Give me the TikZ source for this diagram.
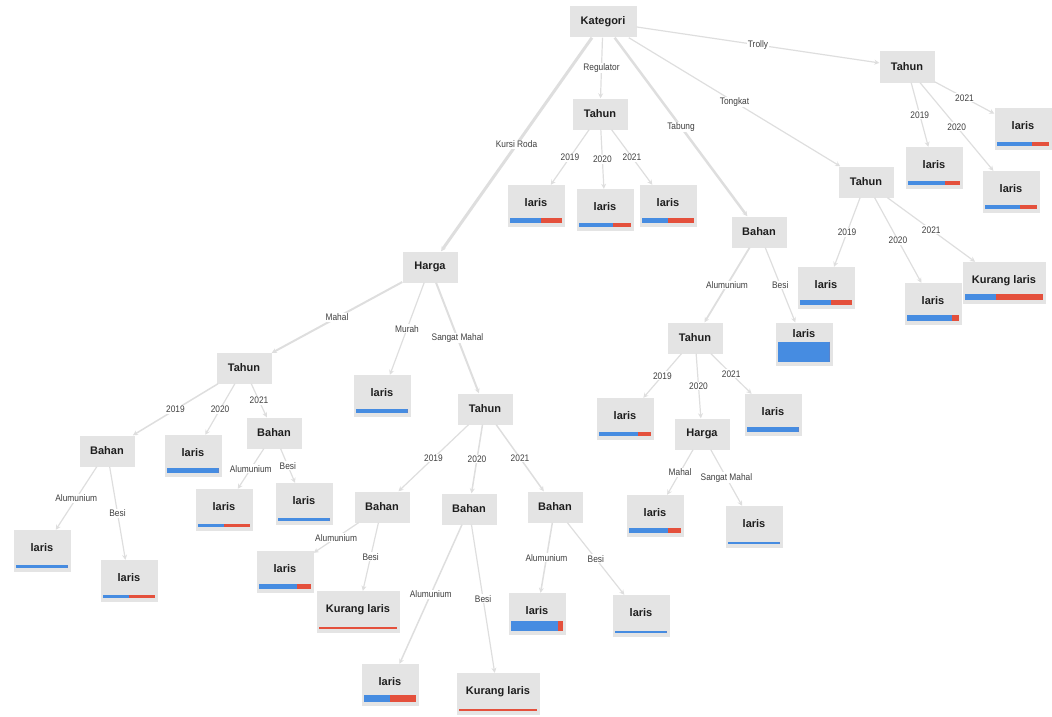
\documentclass[tikz,border=0pt]{standalone}
\usepackage{fontspec}
\setmainfont{Liberation Sans}
\newfontfamily\edgefont[FakeStretch=0.88]{Liberation Sans}
\usepackage{xcolor}
\usetikzlibrary{arrows.meta, calc}

\definecolor{nodegray}{RGB}{228,228,228}
\definecolor{edgegray}{RGB}{222,222,222}
\definecolor{barblue}{RGB}{70,140,225}
\definecolor{barred}{RGB}{228,80,60}
\definecolor{textdark}{RGB}{30,30,30}

% bar under a leaf: node, blue share, thickness
\newcommand{\leafbar}[3]{%
	\path (#1.south west) ++(3,-4) coordinate (#1-b1);
	\path (#1.south east) ++(-3,-4) coordinate (#1-b2);
	\fill[barblue] (#1-b1) rectangle ($(#1-b1)!#2!(#1-b2)+(0,-#3)$);
	\fill[barred] ($(#1-b1)!#2!(#1-b2)$) rectangle ($(#1-b2)+(0,-#3)$);
}

\begin{document}
\begin{tikzpicture}[
					x=1pt, y=-1pt,
					% --- Styles ---
					split/.style={
						rectangle, fill=nodegray, minimum width=55, minimum height=31,
						text=textdark, font=\bfseries\fontsize{11}{13}\selectfont
					},
					leaf/.style={
						rectangle, fill=nodegray, minimum width=57, inner ysep=0pt,
						text height=21, text depth=21,
						text=textdark, font=\bfseries\fontsize{11}{13}\selectfont
					},
					link/.style={
						draw=edgegray, line width=1.2, -{Stealth[length=5pt, width=5pt]}
					},
					elabel/.style={
						fill=white, inner sep=1pt, text=textdark!85,
						font=\edgefont\fontsize{9.5}{11}\selectfont
					}
					]
					\useasboundingbox (0,0) rectangle (1052,717);
					
					% --- 1. Root and first split ---
					\node [split, minimum width=67] (kat) at (603,22) {Kategori};
					\node [split] (harga) at (430,267) {Harga};
					\node [split] (tRegul) at (600,114) {Tahun};
					\node [split] (bTabung) at (759,232) {Bahan};
					\node [split] (tTongkat) at (866,182) {Tahun};
					\node [split] (tTrolly) at (907,67) {Tahun};
					
					% --- 2. Regulator, Trolly, Tongkat ---
					\node [leaf] (reg19) at (536,206) {laris};
					\node [leaf] (reg20) at (605,210) {laris};
					\node [leaf] (reg21) at (668,206) {laris};
					
					\node [leaf] (tro19) at (934,168) {laris};
					\node [leaf] (tro20) at (1011,192) {laris};
					\node [leaf] (tro21) at (1023,129) {laris};
					
					\node [leaf] (ton19) at (826,288) {laris};
					\node [leaf] (ton20) at (933,304) {laris};
					\node [leaf, minimum width=83] (ton21) at (1004,283) {Kurang laris};
					
					% --- 3. Tabung ---
					\node [split] (tTabung) at (695,338) {Tahun};
					\node [leaf, text height=15, text depth=28] (tabBesi) at (804,344) {laris};
					\node [leaf] (tab19) at (625,419) {laris};
					\node [split] (hTabung) at (702,434) {Harga};
					\node [leaf] (tab21) at (773,415) {laris};
					\node [leaf] (tabMahal) at (655,516) {laris};
					\node [leaf] (tabSM) at (754,527) {laris};
					
					% --- 4. Kursi Roda ---
					\node [split] (tMahal) at (244,368) {Tahun};
					\node [leaf] (murah) at (382,396) {laris};
					\node [split] (tSM) at (485,409) {Tahun};
					
					\node [split] (b19) at (107,451) {Bahan};
					\node [leaf] (m20) at (193,456) {laris};
					\node [split] (b21) at (274,433) {Bahan};
					\node [leaf] (b19Alu) at (42,551) {laris};
					\node [leaf] (b19Besi) at (129,581) {laris};
					\node [leaf] (b21Alu) at (224,510) {laris};
					\node [leaf] (b21Besi) at (304,504) {laris};
					
					\node [split] (s19) at (382,507) {Bahan};
					\node [split] (s20) at (469,509) {Bahan};
					\node [split] (s21) at (555,507) {Bahan};
					\node [leaf] (s19Alu) at (285,572) {laris};
					\node [leaf, minimum width=83] (s19Besi) at (358,612) {Kurang laris};
					\node [leaf] (s20Alu) at (390,685) {laris};
					\node [leaf, minimum width=83] (s20Besi) at (498,694) {Kurang laris};
					\node [leaf] (s21Alu) at (537,614) {laris};
					\node [leaf] (s21Besi) at (641,616) {laris};
					
					% --- Connections ---
					\draw [link, line width=3] (kat) -- node[elabel] {Kursi Roda} (harga);
					\draw [link] (kat) -- node[elabel] {Regulator} (tRegul);
					\draw [link, line width=2.5] (kat) -- node[elabel] {Tabung} (bTabung);
					\draw [link] (kat) -- node[elabel] {Tongkat} (tTongkat);
					\draw [link] (kat) -- node[elabel] {Trolly} (tTrolly);
					
					\draw [link] (tRegul) -- node[elabel] {2019} (reg19);
					\draw [link] (tRegul) -- node[elabel] {2020} (reg20);
					\draw [link] (tRegul) -- node[elabel] {2021} (reg21);
					
					\draw [link] (tTrolly) -- node[elabel] {2019} (tro19);
					\draw [link] (tTrolly) -- node[elabel] {2020} (tro20);
					\draw [link] (tTrolly) -- node[elabel] {2021} (tro21);
					
					\draw [link] (tTongkat) -- node[elabel] {2019} (ton19);
					\draw [link] (tTongkat) -- node[elabel] {2020} (ton20);
					\draw [link] (tTongkat) -- node[elabel] {2021} (ton21);
					
					\draw [link, line width=1.8] (bTabung) -- node[elabel] {Alumunium} (tTabung);
					\draw [link] (bTabung) -- node[elabel] {Besi} (tabBesi);
					\draw [link] (tTabung) -- node[elabel] {2019} (tab19);
					\draw [link] (tTabung) -- node[elabel] {2020} (hTabung);
					\draw [link] (tTabung) -- node[elabel] {2021} (tab21);
					\draw [link] (hTabung) -- node[elabel] {Mahal} (tabMahal);
					\draw [link] (hTabung) -- node[elabel] {Sangat Mahal} (tabSM);
					
					\draw [link, line width=2] (harga) -- node[elabel] {Mahal} (tMahal);
					\draw [link] (harga) -- node[elabel] {Murah} (murah);
					\draw [link, line width=2] (harga) -- node[elabel] {Sangat Mahal} (tSM);
					
					\draw [link, line width=1.5] (tMahal) -- node[elabel] {2019} (b19);
					\draw [link] (tMahal) -- node[elabel] {2020} (m20);
					\draw [link] (tMahal) -- node[elabel] {2021} (b21);
					\draw [link] (b19) -- node[elabel] {Alumunium} (b19Alu);
					\draw [link] (b19) -- node[elabel] {Besi} (b19Besi);
					\draw [link] (b21) -- node[elabel] {Alumunium} (b21Alu);
					\draw [link] (b21) -- node[elabel] {Besi} (b21Besi);
					
					\draw [link] (tSM) -- node[elabel] {2019} (s19);
					\draw [link, line width=1.5] (tSM) -- node[elabel] {2020} (s20);
					\draw [link, line width=1.5] (tSM) -- node[elabel] {2021} (s21);
					\draw [link] (s19) -- node[elabel] {Alumunium} (s19Alu);
					\draw [link] (s19) -- node[elabel] {Besi} (s19Besi);
					\draw [link, line width=1.5] (s20) -- node[elabel] {Alumunium} (s20Alu);
					\draw [link] (s20) -- node[elabel] {Besi} (s20Besi);
					\draw [link, line width=1.5] (s21) -- node[elabel] {Alumunium} (s21Alu);
					\draw [link] (s21) -- node[elabel] {Besi} (s21Besi);
					
					% --- Class bars ---
					\leafbar{reg19}{0.6}{5}
					\leafbar{reg20}{0.65}{4}
					\leafbar{reg21}{0.5}{5}
					\leafbar{tro19}{0.72}{4}
					\leafbar{tro20}{0.68}{4}
					\leafbar{tro21}{0.68}{4}
					\leafbar{ton19}{0.6}{5}
					\leafbar{ton20}{0.86}{6}
					\leafbar{ton21}{0.4}{6}
					\leafbar{tabBesi}{1}{20}
					\leafbar{tab19}{0.75}{4}
					\leafbar{tab21}{1}{5}
					\leafbar{tabMahal}{0.75}{5}
					\leafbar{tabSM}{1}{2}
					\leafbar{murah}{1}{4}
					\leafbar{m20}{1}{5}
					\leafbar{b19Alu}{1}{3}
					\leafbar{b19Besi}{0.5}{3}
					\leafbar{b21Alu}{0.5}{3}
					\leafbar{b21Besi}{1}{3}
					\leafbar{s19Alu}{0.73}{5}
					\leafbar{s19Besi}{0}{2}
					\leafbar{s20Alu}{0.5}{7}
					\leafbar{s20Besi}{0}{2}
					\leafbar{s21Alu}{0.9}{10}
					\leafbar{s21Besi}{1}{2}
					
				\end{tikzpicture}
\end{document}
